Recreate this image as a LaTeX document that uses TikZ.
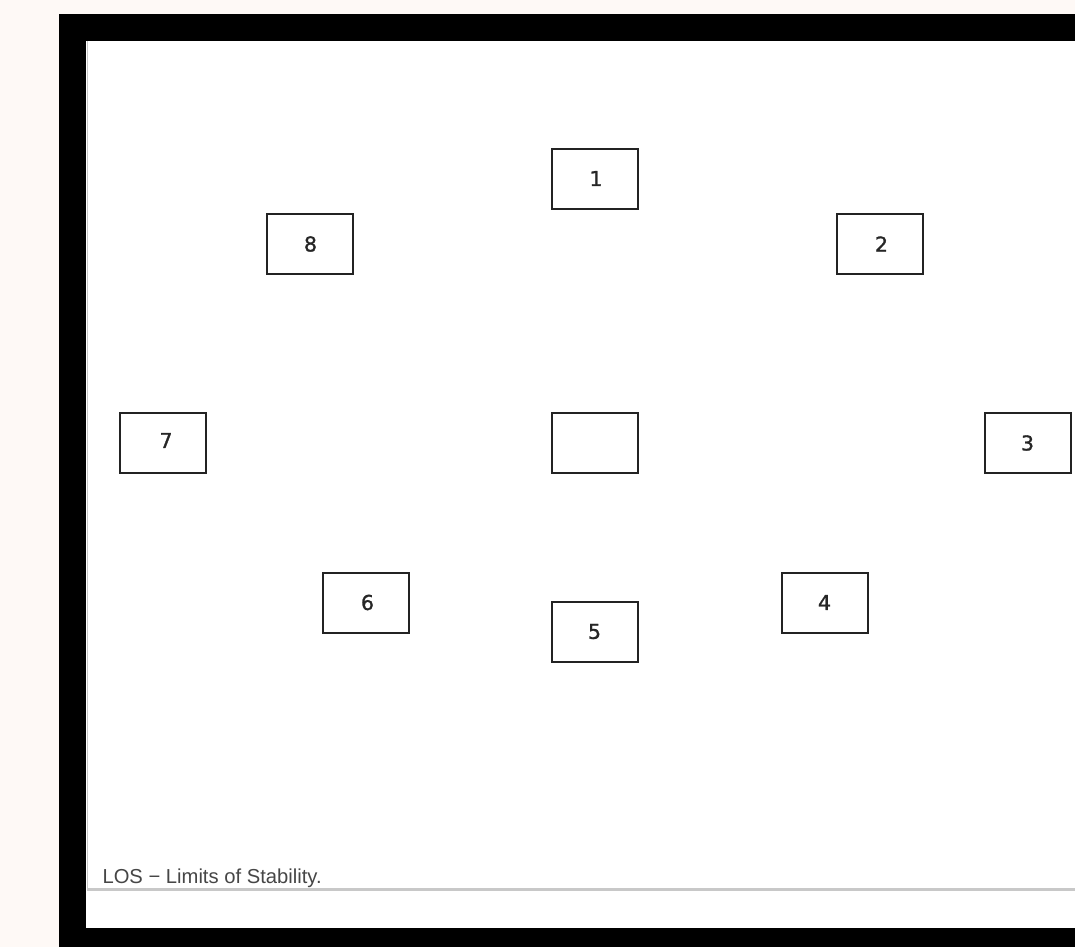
\documentclass[tikz,border=0pt]{standalone}
\usepackage{fontspec}
\setmainfont{Liberation Sans}
\newfontfamily\digitfont[FakeBold=1.3]{DejaVu Sans}
\definecolor{pagebg}{RGB}{254,249,246}
\definecolor{boxline}{RGB}{35,35,35}
\definecolor{rulegrey}{RGB}{200,200,200}
\definecolor{textgrey}{RGB}{70,70,70}
\begin{document}
\begin{tikzpicture}[x=1pt,y=-1pt,
  target/.style={draw=boxline,line width=2pt,minimum width=86pt,minimum height=60pt,inner sep=0pt,font=\digitfont\fontsize{20.5}{20.5}\selectfont,text=black!85},
]
\useasboundingbox (0,0) rectangle (1075,947);
\fill[pagebg] (0,0) rectangle (1075,947);
\fill[black] (59,14) rectangle (1075,947);
\fill[white] (86,41) rectangle (1075,928);
\draw[rulegrey,line width=1.5pt] (87.5,41) -- (87.5,890);
\draw[rulegrey,line width=3pt] (87,889) -- (1075,889);
\node[anchor=base west,font=\fontsize{20.2}{20.2}\selectfont,text=textgrey] (los) at (99,883) {LOS − Limits of Stability.};
\node[target] (t1) at (594.5,178.5) {\hspace{3pt}1};
\node[target] (t2) at (880,244) {\hspace{3pt}2};
\node[target] (t3) at (1027.5,443) {\hspace{0pt}3\hspace{3pt}};
\node[target] (t4) at (824.5,602.5) {4\hspace{10pt}};
\node[target] (t5) at (594.5,631.5) {5\hspace{14pt}};
\node[target] (t6) at (366,602.5) {\hspace{3pt}6};
\node[target] (t7) at (162.5,442.5) {\hspace{7pt}\raisebox{4pt}{7}};
\node[target] (t8) at (310,244) {\hspace{1pt}8};
\node[target] (tc) at (594.5,442.5) {};
\end{tikzpicture}
\end{document}
